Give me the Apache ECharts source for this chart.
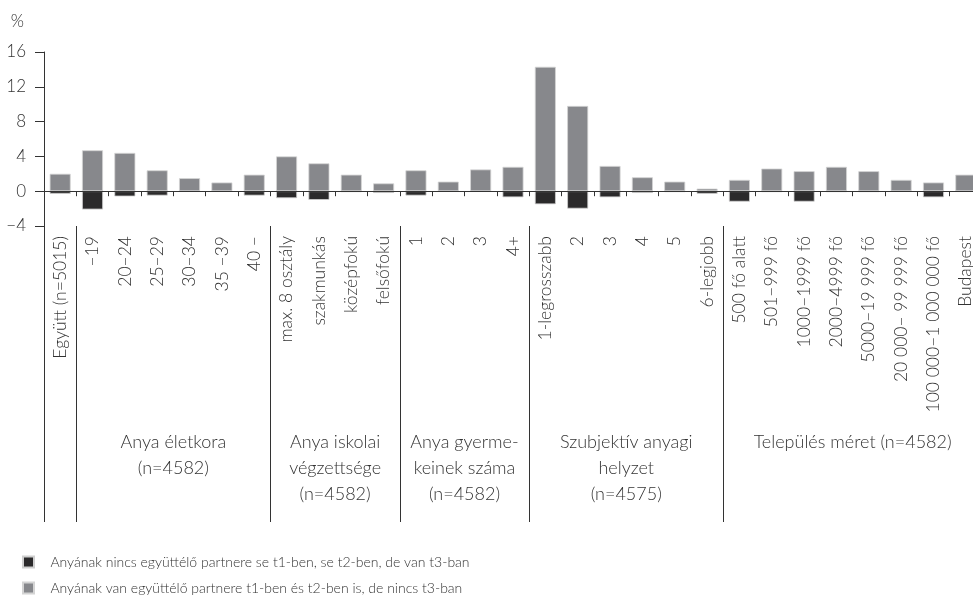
<!DOCTYPE html>
<html>
<head>
<meta charset="utf-8">
<script src="https://cdn.jsdelivr.net/npm/echarts@6/dist/echarts.min.js"></script>
<style>html,body{margin:0;padding:0;background:#fff;overflow:hidden;width:973px;height:600px}#c{width:982px;height:600px}</style>
</head>
<body>
<div id="c"></div>
<script>
const categories = ['Együtt (n=5015)', '–19', '20–24', '25–29', '30–34', '35 –39', '40 –',
  'max. 8 osztály', 'szakmunkás', 'középfokú', 'felsőfokú',
  '1', '2', '3', '4+',
  '1-legrosszabb', '2', '3', '4', '5', '6-legjobb',
  '500 fő alatt', '501–999 fő', '1000–1999 fő', '2000–4999 fő', '5000–19 999 fő', '20 000– 99 999 fő', '100 000–1 000 000 fő', 'Budapest'];
const greyValues = [2.0, 4.7, 4.4, 2.4, 1.5, 1.0, 1.9,
  4.0, 3.2, 1.9, 0.9,
  2.4, 1.1, 2.5, 2.8,
  14.3, 9.8, 2.9, 1.6, 1.1, 0.3,
  1.3, 2.6, 2.3, 2.8, 2.3, 1.3, 1.0, 1.9];
const darkValues = [-0.3, -2.1, -0.6, -0.5, -0.05, -0.05, -0.5,
  -0.8, -1.0, -0.1, -0.2,
  -0.5, -0.05, -0.05, -0.7,
  -1.5, -2.0, -0.7, -0.2, -0.1, -0.3,
  -1.2, -0.1, -1.2, -0.1, -0.1, -0.05, -0.7, -0.05];
const groupStarts = [0, 1, 7, 11, 15, 21];
const groupEnds = [0, 6, 10, 14, 20, 28];
const groupLabels = ['', 'Anya életkora\n(n=4582)', 'Anya iskolai\nvégzettsége\n(n=4582)',
  'Anya gyerme-\nkeinek száma\n(n=4582)', 'Szubjektív anyagi\nhelyzet\n(n=4575)', 'Település méret (n=4582)'];
const seriesNames = ['Anyának nincs együttélő partnere se t1-ben, se t2-ben, de van t3-ban',
  'Anyának van együttélő partnere t1-ben és t2-ben is, de nincs t3-ban'];
const yTicks = {min: -4, max: 16, interval: 4};

const FONT = 'Lato';
const TXT = '#333';
const chart = echarts.init(document.getElementById('c'), null, {renderer: 'canvas'});
function legendBox(name, top) {
  return {
    orient: 'horizontal', left: 22, top: top, padding: 0, itemWidth: 11, itemHeight: 11,
    icon: 'rect', data: [name],
    formatter: function (n) { return '   ' + n; },
    textStyle: {fontFamily: FONT, fontWeight: 300, fontSize: 14, color: TXT}
  };
}
const option = {
  animation: false,
  textStyle: {fontFamily: FONT, fontWeight: 300, color: TXT},
  grid: {left: 44, right: 0, top: 52, bottom: 374, containLabel: false},
  legend: [legendBox(seriesNames[0], 555), legendBox(seriesNames[1], 581)],
  xAxis: [{
    type: 'category', data: categories, position: 'bottom',
    axisLine: {lineStyle: {color: '#333', width: 1}},
    axisTick: {show: true, length: 5, interval: 0, lineStyle: {color: '#333'}},
    axisLabel: {interval: 0, rotate: 90, margin: 10, fontSize: 17.5, color: TXT, fontFamily: FONT, fontWeight: 300}
  }, {
    type: 'category', data: categories, position: 'bottom',
    axisLine: {show: false},
    axisLabel: {show: false},
    axisTick: {show: true, length: 296, interval: function (i) { return groupStarts.indexOf(i) >= 0; },
      lineStyle: {color: '#333', width: 1}}
  }],
  yAxis: {
    type: 'value', min: yTicks.min, max: yTicks.max, interval: yTicks.interval,
    name: '%', nameLocation: 'end', nameGap: 30,
    nameTextStyle: {align: 'right', verticalAlign: 'middle', padding: [0, 20, 0, 0], fontSize: 17, color: TXT, fontFamily: FONT, fontWeight: 300},
    axisLine: {show: true, lineStyle: {color: '#333'}},
    axisTick: {show: true, length: 9, lineStyle: {color: '#333'}},
    splitLine: {show: false},
    axisLabel: {margin: 18, fontSize: 17, color: TXT, fontFamily: FONT, fontWeight: 300,
      verticalAlign: 'middle', padding: [0, 0, 10, 0],
      formatter: function (v) { return String(v).replace('-', '−'); }}
  },
  series: [{
    name: seriesNames[0], type: 'bar', stack: 's', data: darkValues, barWidth: 21,
    itemStyle: {color: '#2b2a2b', borderColor: '#cfcfcf', borderWidth: 0.8}
  }, {
    name: seriesNames[1], type: 'bar', stack: 's', data: greyValues, barWidth: 21,
    itemStyle: {color: '#87888c', borderColor: '#d4d4d4', borderWidth: 0.8},
    markLine: {silent: true, symbol: 'none', label: {show: false},
      lineStyle: {color: '#333', width: 1.2, type: 'solid'}, data: [{yAxis: 0}]}
  }]
};
chart.setOption(option);

const graphics = [];
groupLabels.forEach(function (lab, g) {
  if (!lab) return;
  const x1 = chart.convertToPixel({xAxisIndex: 0}, groupStarts[g]);
  const x2 = chart.convertToPixel({xAxisIndex: 0}, groupEnds[g]);
  graphics.push({
    type: 'text', x: (x1 + x2) / 2, y: 429,
    style: {text: lab, align: 'center', verticalAlign: 'top', lineHeight: 26,
      font: '300 18px ' + FONT, fill: TXT}
  });
});
chart.setOption({graphic: graphics});
</script>
</body>
</html>
